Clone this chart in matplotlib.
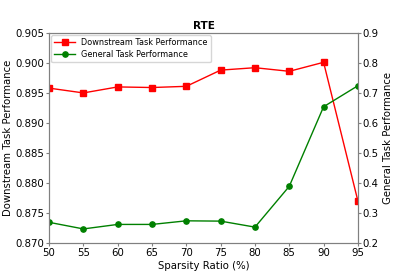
import matplotlib
matplotlib.use("Agg")
import matplotlib.pyplot as plt

sparsity = [50, 55, 60, 65, 70, 75, 80, 85, 90, 95]
downstream = [0.8958, 0.8950, 0.8960, 0.8959, 0.8961, 0.8988, 0.8992, 0.8986, 0.9001, 0.8770]
general = [0.269, 0.247, 0.262, 0.262, 0.274, 0.273, 0.253, 0.389, 0.654, 0.724]

fig, ax1 = plt.subplots(figsize=(3.99, 2.74), dpi=100)
fig.subplots_adjust(left=0.123, right=0.897, bottom=0.113, top=0.880)

l1, = ax1.plot(sparsity, downstream, color="red", marker="s", markersize=3.8,
               linewidth=1, label="Downstream Task Performance")
ax1.set_ylim(0.870, 0.905)
ax1.set_xlim(50, 95)
ax1.set_xticks(sparsity)
ax1.set_yticks([0.870, 0.875, 0.880, 0.885, 0.890, 0.895, 0.900, 0.905])
ax1.set_xlabel("Sparsity Ratio (%)", fontsize=7.3, labelpad=2)
ax1.set_ylabel("Downstream Task Performance", fontsize=7.3, labelpad=1.5)
ax1.set_title("RTE", fontsize=7.5, fontweight="bold", pad=3)

ax2 = ax1.twinx()
l2, = ax2.plot(sparsity, general, color="green", marker="o", markersize=3.8,
               linewidth=1, label="General Task Performance")
ax2.set_ylim(0.2, 0.9)
ax2.set_ylabel("General Task Performance", fontsize=7.3, labelpad=3)

for ax in (ax1, ax2):
    ax.tick_params(labelsize=7.3, length=2, pad=1.5, color="gray")
    for s in ax.spines.values():
        s.set_color("gray")

ax1.legend(handles=[l1, l2], loc="upper left", fontsize=5.85, handlelength=2.6,
           handletextpad=0.7, borderpad=0.4, labelspacing=0.35, borderaxespad=0.25)

plt.savefig("out.png", dpi=100)
